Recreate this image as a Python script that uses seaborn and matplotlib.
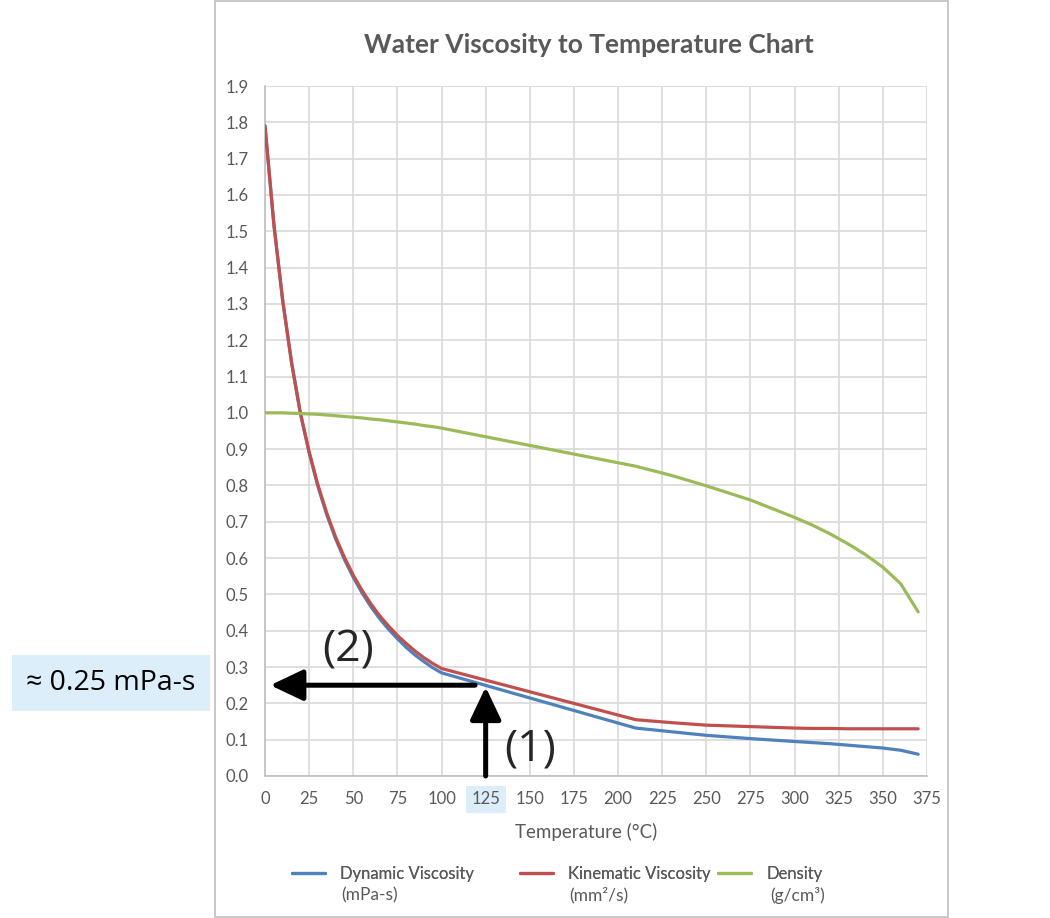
import numpy as np
import pandas as pd
import matplotlib
matplotlib.use("Agg")
import matplotlib.pyplot as plt
import seaborn as sns
from matplotlib.patches import Rectangle

# дані
temp = [0, 5, 10, 15, 20, 25, 30, 35, 40, 45, 50, 55, 60, 65, 70, 75, 80, 85, 90, 95, 100,
        210, 230, 250, 275, 300, 310, 320, 330, 340, 350, 360, 370]
dynamic_visc = [1.79, 1.52, 1.31, 1.14, 1.00, 0.89, 0.797, 0.719, 0.653, 0.596, 0.547, 0.504,
                0.466, 0.433, 0.404, 0.378, 0.354, 0.333, 0.315, 0.298, 0.284,
                0.132, 0.122, 0.112, 0.103, 0.095, 0.092, 0.089, 0.085, 0.081, 0.077, 0.071, 0.060]
kinematic_visc = [1.79, 1.52, 1.31, 1.14, 1.00, 0.893, 0.801, 0.724, 0.658, 0.602, 0.553, 0.511,
                  0.474, 0.441, 0.413, 0.387, 0.365, 0.344, 0.326, 0.310, 0.296,
                  0.155, 0.147, 0.140, 0.136, 0.132, 0.131, 0.131, 0.130, 0.130, 0.130, 0.130, 0.130]
density = [1.000, 1.000, 1.000, 0.999, 0.998, 0.997, 0.996, 0.994, 0.992, 0.990, 0.988, 0.986,
           0.983, 0.981, 0.978, 0.975, 0.972, 0.969, 0.965, 0.962, 0.958,
           0.853, 0.828, 0.799, 0.760, 0.712, 0.691, 0.667, 0.640, 0.610, 0.575, 0.530, 0.452]

series_names = ["Dynamic Viscosity", "Kinematic Viscosity", "Density"]
series_units = ["(mPa-s)", "(mm²/s)", "(g/cm³)"]
colors = ["#4F81BD", "#C0504D", "#9BBB59"]

x_ticks = list(range(0, 376, 25))
y_ticks = [round(i * 0.1, 1) for i in range(20)]

df = pd.DataFrame({
    "temp": temp * 3,
    "value": dynamic_visc + kinematic_visc + density,
    "series": [series_names[0]] * len(temp) + [series_names[1]] * len(temp) + [series_names[2]] * len(temp),
})

sns.set_style("white")
plt.rcParams["font.family"] = ["Lato", "DejaVu Sans"]

grey = "#595959"
fig = plt.figure(figsize=(10.5, 9.18), dpi=100)
ax = fig.add_axes([265 / 1050, 1 - 776 / 918, 662 / 1050, 690 / 918])

# рамка області діаграми
fig.patches.append(Rectangle((215 / 1050, 0.001), 733 / 1050, 0.998, transform=fig.transFigure,
                             fill=False, edgecolor="#BFBFBF", lw=1.2))

sns.lineplot(data=df, x="temp", y="value", hue="series", palette=colors, lw=2.3,
             ax=ax, legend=False, zorder=3)

ax.set_xlim(0, 375)
ax.set_ylim(0, 1.9)
ax.set_xticks(x_ticks)
ax.set_yticks(y_ticks)
ax.set_yticklabels([f"{v:.1f}" for v in y_ticks])
ax.grid(True, color="#D9D9D9", lw=1.2)
ax.set_axisbelow(True)
for s in ["top", "right"]:
    ax.spines[s].set_visible(False)
for s in ["left", "bottom"]:
    ax.spines[s].set_color("#BFBFBF")
    ax.spines[s].set_linewidth(1.2)
ax.tick_params(length=0, labelsize=12, labelcolor=grey)
ax.tick_params(axis="x", pad=11)
ax.tick_params(axis="y", pad=12)
ax.set_xlabel("Temperature (°C)", fontsize=13.5, color=grey)
ax.xaxis.set_label_coords((586 - 265) / 662, -(832 - 776) / 690)
ax.xaxis.label.set_va("center")
ax.set_ylabel("")

for lbl in ax.get_xticklabels():
    if lbl.get_text() == "125":
        lbl.set_bbox(dict(facecolor="#DDEEFB", edgecolor="none", pad=4))

fig.text(589 / 1050, 1 - 45 / 918, "Water Viscosity to Temperature Chart", ha="center", va="center",
         fontsize=19, fontweight="bold", color=grey)

# легенда: три окремі записи, одиниці другим рядком
legend_x = [292, 520, 718]
text_x = [341, 569, 770]
for name, unit, c, lx, tx in zip(series_names, series_units, colors, legend_x, text_x):
    leg = fig.legend([plt.Line2D([], [], color=c, lw=2.3)], [name], loc="center left",
                     bbox_to_anchor=(lx / 1050, 1 - 874 / 918), frameon=False, fontsize=12,
                     labelcolor=grey, handlelength=1.98, handletextpad=0.9, borderpad=0,
                     borderaxespad=0)
    fig.add_artist(leg)
    fig.text(tx / 1050, 1 - 895 / 918, unit, ha="left", va="center", fontsize=12.5, color=grey)

# стрілки та підписи
arrow_kw = dict(arrowstyle="-|>,head_length=2.0,head_width=0.95", lw=3.6, color="black",
                shrinkA=0, shrinkB=0)
ax.annotate("", xy=(125, 0.245), xytext=(125, 0), arrowprops=arrow_kw, annotation_clip=False)
ax.annotate("", xy=(3, 0.25), xytext=(119, 0.25), arrowprops=arrow_kw, annotation_clip=False)
ax.text(150, 0.075, "(1)", fontsize=32, ha="center", va="center", family=["Open Sans", "DejaVu Sans"])
ax.text(47, 0.345, "(2)", fontsize=32, ha="center", va="center", family=["Open Sans", "DejaVu Sans"])

fig.text(111 / 1050, 1 - 683 / 918, "≈ 0.25 mPa-s", ha="center", va="center", fontsize=20.5,
         family=["Open Sans", "DejaVu Sans"], color="black",
         bbox=dict(facecolor="#DDEEFB", edgecolor="none", boxstyle="square,pad=0.5"))

fig.savefig("out.png", dpi=100)
